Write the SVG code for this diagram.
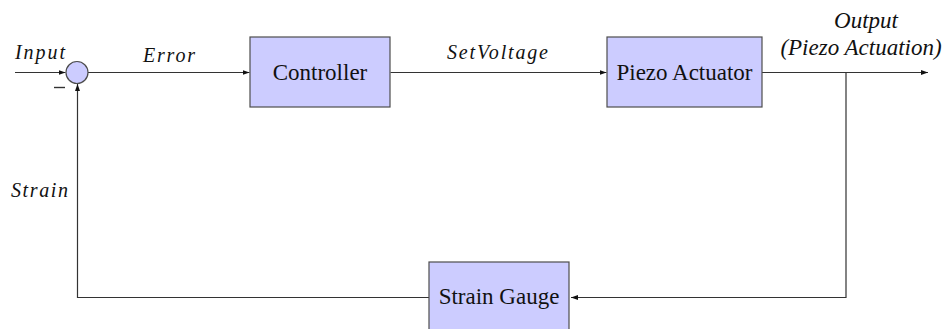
<svg xmlns="http://www.w3.org/2000/svg" width="949" height="329" viewBox="0 0 949 329">
<style>
.box{fill:#ccccff;stroke:#4d4d4d;stroke-width:1.2}
.line{fill:none;stroke:#333;stroke-width:1.2}
text{font-family:"Liberation Serif","Times New Roman","DejaVu Serif",serif;fill:#111}
.bt{font-size:23px;text-anchor:middle}
.it{font-style:italic;font-size:20px}
.ot{font-style:italic;font-size:23px;text-anchor:middle}
</style>
<defs>
<marker id="arr" markerUnits="userSpaceOnUse" markerWidth="8" markerHeight="6" refX="7" refY="3" orient="auto">
<path d="M0,0.5 L7,3 L0,5.5 z" fill="#111"/>
</marker>
</defs>
<rect width="949" height="329" fill="#fff"/>
<g id="connectors">
<line class="line" x1="15" y1="72.5" x2="65.5" y2="72.5" marker-end="url(#arr)"/>
<line class="line" x1="88" y1="72.5" x2="249.5" y2="72.5" marker-end="url(#arr)"/>
<line class="line" x1="390.5" y1="72.5" x2="606.5" y2="72.5" marker-end="url(#arr)"/>
<line class="line" x1="762" y1="72.5" x2="928" y2="72.5" marker-end="url(#arr)"/>
<polyline class="line" points="846,72.5 846,297.5 571,297.5" marker-end="url(#arr)"/>
<polyline class="line" points="429,297.5 77.5,297.5 77.5,84" marker-end="url(#arr)"/>
<line x1="54" y1="87.5" x2="65" y2="87.5" stroke="#333" stroke-width="1.4"/>
</g>
<g id="sum">
<circle cx="77" cy="72.5" r="11" class="box"/>
</g>
<g id="controller">
<rect class="box" x="250" y="37" width="140" height="70"/>
<text class="bt" x="320" y="80">Controller</text>
</g>
<g id="piezo">
<rect class="box" x="607" y="37" width="155" height="70"/>
<text class="bt" x="684.5" y="80">Piezo Actuator</text>
</g>
<g id="gauge">
<rect class="box" x="429" y="262" width="140" height="72"/>
<text class="bt" x="499" y="304">Strain Gauge</text>
</g>
<g id="labels">
<text class="it" x="15" y="59" textLength="50" lengthAdjust="spacing">Input</text>
<text class="it" x="143" y="61.5" textLength="52" lengthAdjust="spacing">Error</text>
<text class="it" x="447" y="58.5" textLength="101" lengthAdjust="spacing">SetVoltage</text>
<text class="it" x="11" y="197" textLength="57" lengthAdjust="spacing">Strain</text>
<text class="ot" x="866" y="28">Output</text>
<text class="ot" x="861" y="55">(Piezo Actuation)</text>
</g>
</svg>
